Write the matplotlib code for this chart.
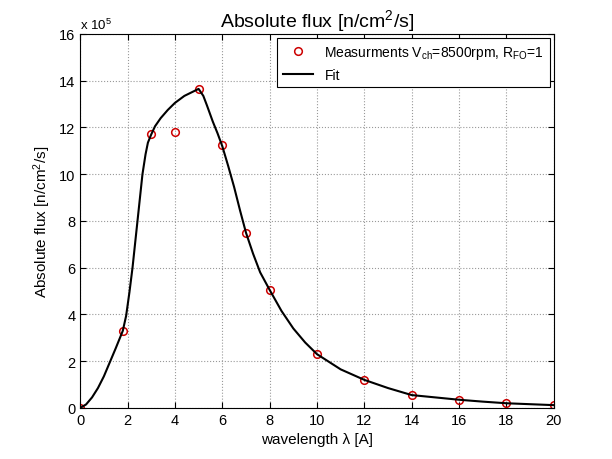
import numpy as np
import matplotlib
matplotlib.use("Agg")
import matplotlib.pyplot as plt

plt.rcParams['font.family'] = ['Liberation Sans', 'DejaVu Sans']
plt.rcParams['mathtext.default'] = 'regular'

# measured points (flux in units of 1e5 n/cm^2/s)
wl_meas = [0, 1.8, 3, 4, 5, 6, 7, 8, 10, 12, 14, 16, 18, 20]
flux_meas = [0.0, 3.3, 11.7, 11.8, 13.65, 11.25, 7.5, 5.05, 2.3, 1.2, 0.55, 0.35, 0.2, 0.12]

# fit curve
wl_fit = [0, 0.25, 0.5, 0.75, 1.0, 1.25, 1.5, 1.8, 1.94, 2.08, 2.21, 2.42, 2.63, 2.76, 2.86, 3.0,
          3.16, 3.4, 3.7, 4.0, 4.4, 4.8, 5.0, 5.2, 5.35, 5.6, 5.8, 6.0, 6.25, 6.5,
          6.75, 7.0, 7.3, 7.6, 8.0, 8.5, 9.0, 9.5, 10, 11, 12, 13, 14, 15,
          16, 17, 18, 19, 20]
flux_fit = [0.0, 0.15, 0.45, 0.85, 1.35, 1.95, 2.55, 3.3, 3.94, 4.95, 6.0, 8.0, 10.0, 10.85, 11.35, 11.7,
            12.05, 12.4, 12.75, 13.05, 13.35, 13.55, 13.65, 13.35, 12.95, 12.25, 11.75, 11.2,
            10.35, 9.45, 8.45, 7.5, 6.6, 5.8, 5.05, 4.15, 3.4, 2.8, 2.3, 1.65, 1.2,
            0.85, 0.55, 0.45, 0.35, 0.27, 0.2, 0.16, 0.12]

fig = plt.figure(figsize=(6.12, 4.6), dpi=100)
ax = fig.add_axes([0.131, 0.111, 0.774, 0.813])

ax.plot(wl_meas, flux_meas, 'o', mfc='none', mec='#cc0000', ms=5.5, mew=1.1,
        label='Measurments V$_{ch}$=8500rpm, R$_{FO}$=1')
ax.plot(wl_fit, flux_fit, '-', color='black', lw=1.5, label='Fit')

ax.set_xlim(0, 20)
ax.set_ylim(0, 16)
ax.set_xticks(np.arange(0, 21, 2))
ax.set_yticks(np.arange(0, 17, 2))
ax.grid(True, linestyle=':', color='#999999', lw=0.8)
ax.tick_params(direction='in', labelsize=10.5, length=4, top=True, right=True)

ax.set_title('Absolute flux [n/cm$^2$/s]', fontsize=14)
ax.set_xlabel('wavelength λ [A]', fontsize=11)
ax.set_ylabel('Absolute flux [n/cm$^2$/s]', fontsize=11)
ax.text(0, 1.005, 'x 10$^5$', transform=ax.transAxes, fontsize=9.5,
        ha='left', va='bottom')

leg = ax.legend(loc='upper right', fontsize=10, fancybox=False, framealpha=1,
                edgecolor='black', borderaxespad=0.3, handlelength=2.2)
leg.get_frame().set_linewidth(0.8)

fig.savefig('out.png', dpi=100)
